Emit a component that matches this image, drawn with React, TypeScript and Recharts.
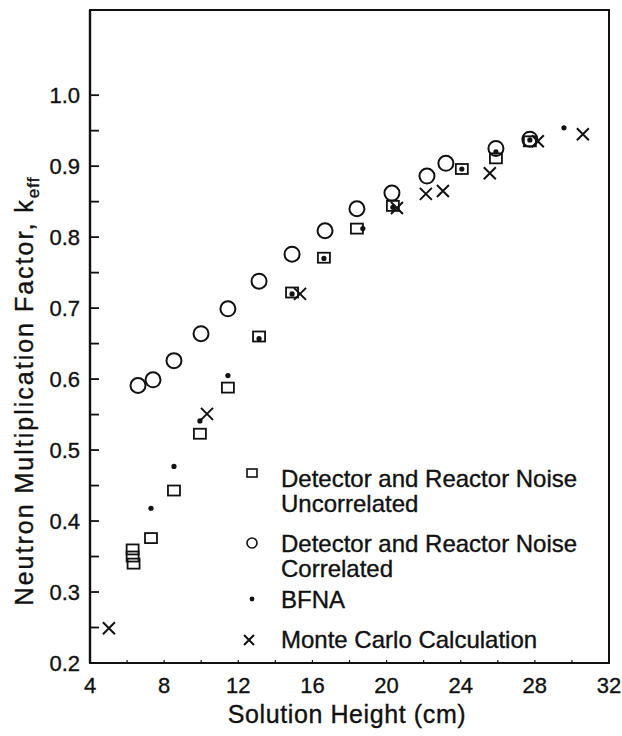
import { Legend, ReferenceArea, Scatter, ScatterChart, XAxis, YAxis } from "recharts";

const FONT = '"Liberation Sans", Arial, Helvetica, sans-serif';
const INK = "#111";

// [solution height (cm), k_eff]
const uncorrelated = [
  [6.3, 0.36], [6.3, 0.35], [6.35, 0.34], [7.29, 0.376], [8.53, 0.443], [9.93, 0.523],
  [11.44, 0.588], [13.12, 0.66], [14.9, 0.722], [16.62, 0.771], [18.4, 0.812],
  [20.34, 0.844], [24.06, 0.896], [25.9, 0.911], [27.73, 0.935],
];
const correlated = [
  [6.59, 0.591], [7.4, 0.599], [8.53, 0.626], [9.99, 0.664], [11.44, 0.699], [13.12, 0.738],
  [14.9, 0.776], [16.68, 0.809], [18.4, 0.84], [20.29, 0.862], [22.18, 0.886], [23.2, 0.904],
  [25.9, 0.925], [27.73, 0.938],
];
const bfna = [
  [7.29, 0.418], [8.53, 0.477], [9.93, 0.541], [11.44, 0.605], [13.12, 0.657], [14.9, 0.72],
  [16.62, 0.77], [18.72, 0.812], [20.34, 0.842], [24.06, 0.896], [25.9, 0.92], [27.73, 0.937],
  [29.57, 0.954],
];
const monteCarlo = [
  [5.02, 0.249], [10.31, 0.551], [15.33, 0.72], [20.56, 0.841], [22.12, 0.861], [23.04, 0.865],
  [25.57, 0.89], [28.16, 0.935], [30.59, 0.945],
];

const xTicks = [4, 6, 8, 10, 12, 14, 16, 18, 20, 22, 24, 26, 28, 30, 32];
const yTicks = [0.2, 0.25, 0.3, 0.35, 0.4, 0.45, 0.5, 0.55, 0.6, 0.65, 0.7, 0.75, 0.8, 0.85, 0.9, 0.95, 1.0];

const toPoints = (rows: number[][]) => rows.map(([h, k]) => ({ h, k }));

// scanned type looks a touch heavier than plain Liberation Sans
const textStyle = { fontFamily: FONT, fill: INK, stroke: INK, strokeWidth: 0.35 };

const OpenSquare = (p: any) => (
  <rect x={p.cx - 6} y={p.cy - 5} width={12} height={10} fill="none" stroke={INK} strokeWidth={1.8} />
);
const OpenCircle = (p: any) => (
  <circle cx={p.cx} cy={p.cy} r={7.5} fill="none" stroke={INK} strokeWidth={2} />
);
const Dot = (p: any) => <circle cx={p.cx} cy={p.cy} r={2.6} fill={INK} />;
const Cross = (p: any) => {
  const s = p.half ?? 6;
  return (
    <path
      d={`M${p.cx - s},${p.cy - s}L${p.cx + s},${p.cy + s}M${p.cx + s},${p.cy - s}L${p.cx - s},${p.cy + s}`}
      stroke={INK}
      strokeWidth={2}
      fill="none"
    />
  );
};

function XTick({ x, y, payload }: any) {
  const v = payload.value;
  return (
    <g>
      <line x1={x} x2={x} y1={y} y2={y - 3} stroke={INK} strokeWidth={1.2} />
      {v % 4 === 0 && (
        <text x={x} y={y + 30} textAnchor="middle" fontSize={22} {...textStyle}>
          {v}
        </text>
      )}
    </g>
  );
}

function YTick({ x, y, payload }: any) {
  const v = payload.value;
  const major = Math.abs(v * 10 - Math.round(v * 10)) < 1e-6;
  return (
    <g>
      <line x1={x} x2={x + 9} y1={y} y2={y} stroke={INK} strokeWidth={1.8} />
      {major && (
        <text x={x - 10} y={y + 8} textAnchor="end" fontSize={22} {...textStyle}>
          {v.toFixed(1)}
        </text>
      )}
    </g>
  );
}

function XTitle() {
  return (
    <text x={347} y={723} textAnchor="middle" fontSize={25} letterSpacing={0.6} {...textStyle}>
      Solution Height (cm)
    </text>
  );
}

function YTitle() {
  return (
    <text
      x={33}
      y={391}
      transform="rotate(-90 33 391)"
      textAnchor="middle"
      fontSize={25}
      letterSpacing={2}
      {...textStyle}
    >
      Neutron Multiplication Factor, k
      <tspan fontSize={17} dy={6} letterSpacing={1}>eff</tspan>
    </text>
  );
}

function LegendBox() {
  const t = { fontSize: 24, ...textStyle };
  return (
    <svg width={370} height={210}>
      <rect x={7} y={14} width={10} height={8} fill="none" stroke={INK} strokeWidth={1.6} />
      <text x={41} y={32} {...t}>Detector and Reactor Noise</text>
      <text x={41} y={57} {...t}>Uncorrelated</text>
      <circle cx={12} cy={88} r={5} fill="none" stroke={INK} strokeWidth={1.6} />
      <text x={41} y={97} {...t}>Detector and Reactor Noise</text>
      <text x={41} y={122} {...t}>Correlated</text>
      <circle cx={12} cy={144} r={2.4} fill={INK} />
      <text x={41} y={153} {...t}>BFNA</text>
      <Cross cx={9} cy={185} half={5} />
      <text x={41} y={193} {...t}>Monte Carlo Calculation</text>
    </svg>
  );
}

export default function App() {
  return (
    <div style={{ position: "absolute", left: 0, top: 0, background: "#fff" }}>
      <ScatterChart width={622} height={736} margin={{ top: 10, right: 13, bottom: 0, left: 0 }}>
        <XAxis
          type="number"
          dataKey="h"
          domain={[4, 32]}
          ticks={xTicks}
          interval={0}
          height={73}
          tickSize={0}
          tickMargin={0}
          tickLine={false}
          tick={<XTick />}
          axisLine={{ stroke: INK, strokeWidth: 2 }}
          label={<XTitle />}
          allowDataOverflow
        />
        <YAxis
          type="number"
          dataKey="k"
          domain={[0.2, 1.12]}
          ticks={yTicks}
          interval={0}
          width={90}
          tickSize={0}
          tickMargin={0}
          tickLine={false}
          tick={<YTick />}
          axisLine={{ stroke: INK, strokeWidth: 2.4 }}
          label={<YTitle />}
          allowDataOverflow
        />
        <ReferenceArea x1={4} x2={32} y1={0.2} y2={1.12} fill="none" fillOpacity={0} stroke={INK} strokeWidth={2} />
        <Scatter name="Uncorrelated" data={toPoints(uncorrelated)} shape={OpenSquare} isAnimationActive={false} />
        <Scatter name="Correlated" data={toPoints(correlated)} shape={OpenCircle} isAnimationActive={false} />
        <Scatter name="BFNA" data={toPoints(bfna)} shape={Dot} isAnimationActive={false} />
        <Scatter name="Monte Carlo" data={toPoints(monteCarlo)} shape={Cross} isAnimationActive={false} />
        <Legend
          content={<LegendBox />}
          layout="horizontal"
          verticalAlign="middle"
          align="center"
          wrapperStyle={{ position: "absolute", left: 240, top: 455, width: 370, height: 210 }}
        />
      </ScatterChart>
    </div>
  );
}
